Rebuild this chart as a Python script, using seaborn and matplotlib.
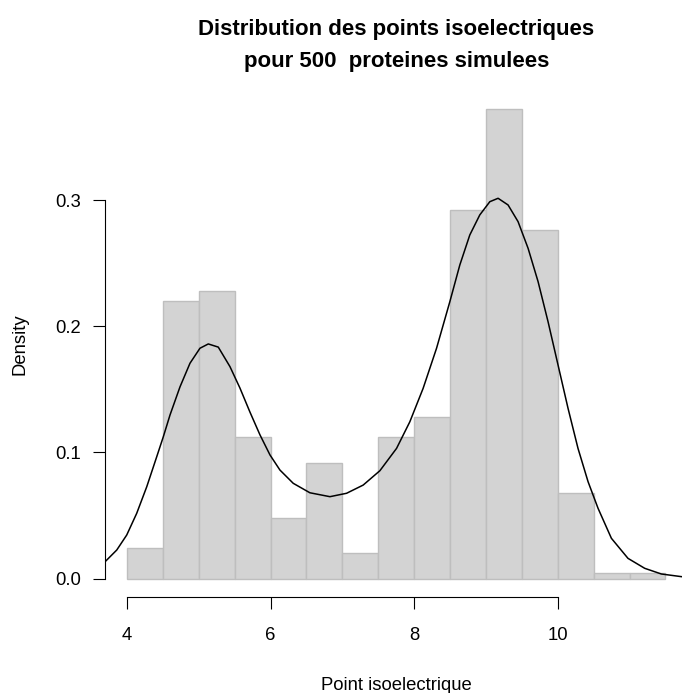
import numpy as np
import pandas as pd
import matplotlib
matplotlib.use("Agg")
import matplotlib.pyplot as plt
from matplotlib.font_manager import FontProperties
import seaborn as sns

# ---- data ----
bin_edges = [4.0, 4.5, 5.0, 5.5, 6.0, 6.5, 7.0, 7.5, 8.0, 8.5, 9.0, 9.5, 10.0, 10.5, 11.0, 11.5]
bin_counts = [6, 55, 57, 28, 12, 23, 5, 28, 32, 73, 93, 69, 17, 1, 1]

curve_x = [3.600, 3.695, 3.858, 3.997, 4.136, 4.276, 4.415, 4.507, 4.600, 4.739, 4.878,
           5.017, 5.133, 5.272, 5.435, 5.574, 5.713, 5.852, 5.992, 6.131, 6.316, 6.548,
           6.827, 7.059, 7.290, 7.523, 7.755, 7.940, 8.125, 8.312, 8.497, 8.636, 8.775,
           8.914, 9.054, 9.169, 9.308, 9.447, 9.587, 9.726, 9.865, 10.004, 10.143, 10.282,
           10.422, 10.561, 10.747, 10.978, 11.211, 11.443, 11.721, 11.900]
curve_y = [0.0080, 0.0133, 0.0226, 0.0345, 0.0517, 0.0728, 0.0966, 0.1125, 0.1297, 0.1520, 0.1707,
           0.1826, 0.1860, 0.1835, 0.1680, 0.1510, 0.1320, 0.1140, 0.0980, 0.0860, 0.0755, 0.0680,
           0.0649, 0.0676, 0.0741, 0.0855, 0.1032, 0.1243, 0.1508, 0.1826, 0.2195, 0.2486, 0.2724,
           0.2883, 0.2988, 0.3015, 0.2962, 0.2830, 0.2618, 0.2354, 0.2036, 0.1693, 0.1350, 0.1032,
           0.0768, 0.0557, 0.0319, 0.0160, 0.0081, 0.0036, 0.0015, 0.0008]

x_ticks = [4, 6, 8, 10]
y_ticks = [0.0, 0.1, 0.2, 0.3]
y_ticklabels = ["0.0", "0.1", "0.2", "0.3"]

title = "Distribution des points isoelectriques\npour 500  proteines simulees"
xlabel = "Point isoelectrique"
ylabel = "Density"

# ---- styling ----
sns.set_style("white")
plt.rcParams["font.family"] = ["Liberation Sans", "DejaVu Sans"]

W, H = 682, 693
fig = plt.figure(figsize=(W / 100, H / 100), dpi=100)
left_px, right_px, top_px, bottom_px = 105.4, 687.0, 90.6, 597.3
ax = fig.add_axes([left_px / W, (H - bottom_px) / H,
                   (right_px - left_px) / W, (bottom_px - top_px) / H])

centers = [(a + b) / 2 for a, b in zip(bin_edges[:-1], bin_edges[1:])]
df = pd.DataFrame({"pI": centers, "n": bin_counts})
sns.histplot(data=df, x="pI", weights="n", bins=bin_edges, stat="density",
             color="#D3D3D3", edgecolor="#BEBEBE", linewidth=1.0, alpha=1.0, ax=ax)

cdf = pd.DataFrame({"x": curve_x, "y": curve_y})
sns.lineplot(data=cdf, x="x", y="y", color="black", linewidth=1.1, ax=ax, sort=False)

ax.set_xlim(3.7, 11.8)
ax.set_ylim(-0.01488, 0.38688)

for s in ["top", "right"]:
    ax.spines[s].set_visible(False)
for s in ["left", "bottom"]:
    ax.spines[s].set_color("black")
    ax.spines[s].set_linewidth(0.8)
ax.spines["left"].set_bounds(0.0, 0.3)
ax.spines["bottom"].set_bounds(4, 10)

ax.set_xticks(x_ticks)
ax.set_xticklabels([str(t) for t in x_ticks])
ax.set_yticks(y_ticks)
ax.set_yticklabels(y_ticklabels)
ax.tick_params(axis="both", direction="out", length=8.3, width=0.8, color="black",
               labelsize=13.3, labelcolor="black", bottom=True, left=True)
ax.tick_params(axis="x", pad=13)
ax.tick_params(axis="y", pad=9.2)

ax.set_xlabel(xlabel, fontsize=13.3, color="black")
ax.xaxis.set_label_coords(0.5, (bottom_px - 676.5) / (bottom_px - top_px))
ax.set_ylabel(ylabel, fontsize=13.3, color="black")
ax.yaxis.set_label_coords((29 - left_px) / (right_px - left_px), 0.5)

# title: two lines, baselines at ~35 px and ~62 px from the top
title_size = 16
fp = FontProperties(family=["Liberation Sans", "DejaVu Sans"], weight="bold", size=title_size)
renderer = fig.canvas.get_renderer()
_, lp_h, lp_d = renderer.get_text_width_height_descent("lp", fp, ismath=False)
asc = lp_h - lp_d
baseline1, baseline2 = 35.2, 62.0
ls = (baseline2 - baseline1) / asc
fig.text((left_px + right_px) / 2 / W, 1 - (baseline1 - asc) / H, title, ha="center", va="top",
         fontproperties=fp, color="black", linespacing=ls)

fig.savefig("out.png", dpi=100)
